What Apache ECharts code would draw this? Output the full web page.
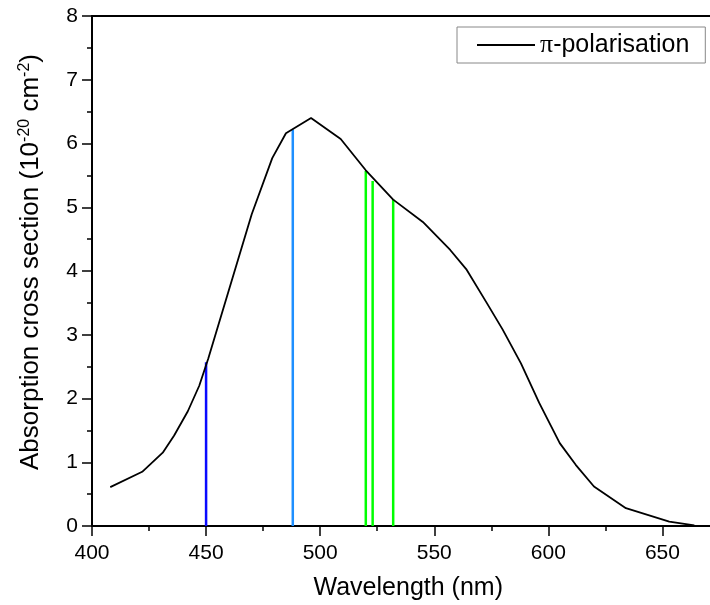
<!DOCTYPE html>
<html>
<head>
<meta charset="utf-8">
<title>Absorption cross section</title>
<script src="https://cdn.jsdelivr.net/npm/echarts@6/dist/echarts.min.js"></script>
<style>
  html, body { margin: 0; padding: 0; background: #fff; overflow: hidden; }
  /* plot runs on past the right edge of the window, like the cropped original */
  #chart { width: 777px; height: 605px; }
</style>
</head>
<body>
<div id="chart"></div>
<script>
  // pi-polarisation curve (nm, 1e-20 cm^2)
  var wavelength = [408, 422, 431, 436, 442, 447, 451, 470, 479, 485, 496, 509, 520, 532, 545, 557, 564, 573, 580, 588, 596, 605, 612, 620, 634, 653, 664];
  var crossSection = [0.61, 0.85, 1.15, 1.42, 1.80, 2.20, 2.63, 4.89, 5.77, 6.16, 6.40, 6.07, 5.58, 5.12, 4.77, 4.33, 4.03, 3.50, 3.08, 2.55, 1.93, 1.30, 0.96, 0.62, 0.28, 0.07, 0.01];

  // laser lines
  var laserWavelength = [450, 488, 520, 523, 532];
  var laserTop = [2.57, 6.22, 5.57, 5.41, 5.12];
  var laserColor = ['#0a0aff', '#1e8fff', '#00ff00', '#00ff00', '#00ff00'];

  var font = 'Liberation Sans, Arial, sans-serif';
  var chart = echarts.init(document.getElementById('chart'));

  var curve = [];
  for (var i = 0; i < wavelength.length; i++) {
    curve.push([wavelength[i], crossSection[i]]);
  }

  var series = [];
  for (var j = 0; j < laserWavelength.length; j++) {
    series.push({
      name: 'laser' + laserWavelength[j],
      type: 'line',
      data: [[laserWavelength[j], 0], [laserWavelength[j], laserTop[j]]],
      showSymbol: false,
      silent: true,
      lineStyle: { color: laserColor[j], width: 2.5 },
      itemStyle: { color: laserColor[j] },
      z: 2
    });
  }
  series.push({
    name: 'π-polarisation',
    type: 'line',
    data: curve,
    showSymbol: false,
    lineStyle: { color: '#000', width: 1.8 },
    itemStyle: { color: '#000' },
    z: 3
  });

  var option = {
    backgroundColor: '#fff',
    animation: false,
    grid: {
      left: 92, top: 16, bottom: 79, right: 0.5,
      outerBoundsMode: 'none',
      show: true, borderColor: '#000', borderWidth: 2
    },
    legend: {
      data: ['π-polarisation'],
      left: 457, top: 27,
      padding: [5, 16, 5, 20],
      icon: 'rect', itemWidth: 58, itemHeight: 2,
      borderColor: '#888', borderWidth: 1,
      formatter: function () { return '{pi|π}-polarisation'; },
      textStyle: {
        fontFamily: font, fontSize: 25, color: '#000', lineHeight: 25,
        rich: { pi: { fontFamily: 'Liberation Serif, Times New Roman, serif', fontSize: 26, color: '#000' } }
      }
    },
    xAxis: {
      type: 'value',
      min: 400, max: 700, interval: 50,
      name: 'Wavelength (nm)',
      nameLocation: 'middle', nameGap: 50,
      nameTextStyle: { fontFamily: font, fontSize: 25, color: '#000', padding: [0, 52, 0, 0] },
      axisLine: { lineStyle: { color: '#000', width: 2 } },
      axisTick: { show: true, inside: false, length: 10, lineStyle: { color: '#000', width: 1.5 } },
      minorTick: { show: true, splitNumber: 2, length: 5, lineStyle: { color: '#000', width: 1.5 } },
      axisLabel: { fontFamily: font, fontSize: 21, color: '#000', margin: 17, showMaxLabel: false },
      splitLine: { show: false }
    },
    yAxis: {
      type: 'value',
      min: 0, max: 8, interval: 1,
      name: 'Absorption cross section (10{sup|-20} cm{sup|-2})',
      nameLocation: 'middle', nameGap: 47,
      nameTextStyle: {
        fontFamily: font, fontSize: 26, color: '#000', padding: [0, 0, 0, 18],
        rich: { sup: { fontFamily: font, fontSize: 16, color: '#000', verticalAlign: 'top', padding: [0, 0, 12, 0] } }
      },
      axisLine: { lineStyle: { color: '#000', width: 2 } },
      axisTick: { show: true, inside: false, length: 10, lineStyle: { color: '#000', width: 1.5 } },
      minorTick: { show: true, splitNumber: 2, length: 5, lineStyle: { color: '#000', width: 1.5 } },
      axisLabel: { fontFamily: font, fontSize: 21, color: '#000', margin: 14 },
      splitLine: { show: false }
    },
    series: series
  };

  chart.setOption(option);
</script>
</body>
</html>
